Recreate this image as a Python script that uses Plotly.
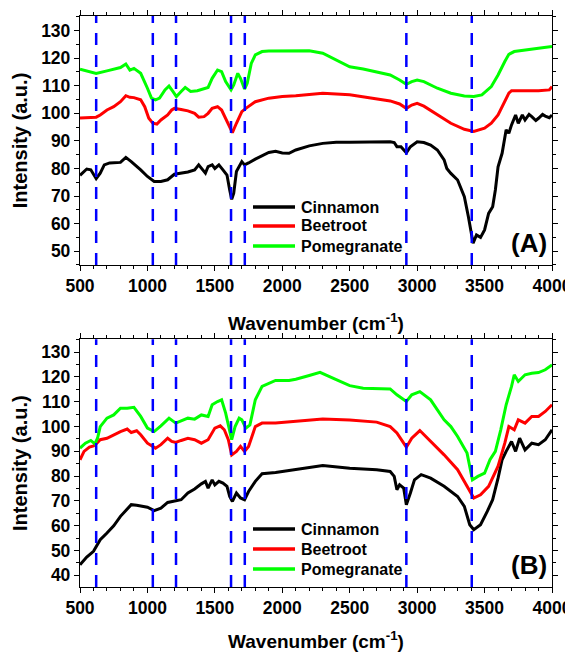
import plotly.graph_objects as go

# ---------------- data ----------------
# Panel A
A_cin_x = [500, 550, 580, 620, 650, 680, 720, 800, 840, 880, 950, 1000, 1050, 1100, 1150, 1200, 1300, 1350, 1380,
           1400, 1430, 1450, 1480, 1500, 1530, 1560, 1590, 1610, 1625, 1640, 1660, 1700, 1720, 1750, 1800, 1900,
           1950, 2000, 2050, 2100, 2200, 2300, 2400, 2500, 2600, 2700, 2800, 2830, 2850, 2880, 2920, 2950, 3000,
           3050, 3100, 3150, 3200, 3220, 3250, 3300, 3350, 3380, 3400, 3415, 3440, 3470, 3500, 3530, 3560, 3580,
           3600, 3630, 3660, 3680, 3700, 3730, 3750, 3780, 3800, 3830, 3850, 3880, 3900, 3930, 3950, 3980, 4000]
A_cin_y = [77.5, 79.8, 79.5, 76.3, 78.3, 81.3, 82.0, 82.2, 84.0, 82.5, 79.5, 77.1, 75.3, 75.3, 75.9, 77.9, 78.7, 79.5,
           81.3, 80.1, 78.3, 80.7, 81.3, 80.0, 81.3, 79.5, 77.6, 72.2, 68.8, 71.0, 78.9, 82.5, 81.3, 82.0, 83.4, 85.8,
           86.2, 85.6, 85.5, 86.7, 88.2, 89.1, 89.5, 89.5, 89.5, 89.7, 89.7, 89.4, 87.9, 87.9, 85.7, 87.9, 89.7,
           89.4, 88.5, 86.7, 83.1, 80.0, 78.2, 75.8, 69.8, 62.5, 56.5, 52.9, 55.9, 55.0, 57.7, 63.7, 66.1, 72.2,
           80.6, 85.5, 94.0, 92.8, 95.8, 99.4, 96.4, 99.4, 97.6, 99.6, 98.8, 97.4, 98.2, 99.6, 99.0, 98.4, 99.4]
A_bee_x = [500, 620, 650, 700, 750, 800, 840, 870, 900, 950, 980, 1010, 1040, 1070, 1100, 1150, 1180, 1200, 1250,
           1300, 1350, 1380, 1420, 1450, 1480, 1520, 1550, 1600, 1630, 1660, 1700, 1730, 1800, 1900, 2000, 2100,
           2300, 2500, 2700, 2800, 2870, 2920, 2960, 3000, 3050, 3150, 3250, 3350, 3420, 3500, 3550, 3600, 3650,
           3680, 3700, 3800, 3900, 3980, 4000]
A_bee_y = [98.3, 98.6, 99.4, 101.2, 102.4, 104.2, 106.4, 105.8, 105.7, 104.9, 102.4, 98.2, 96.4, 96.1, 97.6, 99.4,
           101.2, 101.8, 101.4, 100.9, 100.0, 98.6, 98.8, 100.0, 101.8, 102.4, 101.2, 96.4, 93.0, 96.4, 100.6, 101.8,
           104.2, 105.5, 106.1, 106.4, 107.3, 106.7, 105.2, 104.5, 103.4, 101.8, 103.0, 103.6, 102.6, 99.4, 96.4,
           94.2, 93.4, 94.6, 96.4, 99.4, 104.2, 107.3, 108.2, 108.2, 108.2, 108.5, 109.7]
A_pom_x = [500, 550, 620, 700, 770, 800, 840, 870, 900, 950, 1000, 1030, 1060, 1090, 1130, 1160, 1190, 1215, 1250,
           1280, 1320, 1370, 1450, 1480, 1520, 1550, 1580, 1620, 1640, 1670, 1690, 1720, 1740, 1770, 1800, 1850,
           1900, 2000, 2100, 2200, 2300, 2400, 2500, 2600, 2700, 2800, 2870, 2920, 2960, 3000, 3050, 3150, 3250,
           3350, 3420, 3480, 3550, 3600, 3650, 3680, 3720, 3800, 3900, 4000]
A_pom_y = [116.0, 115.3, 114.5, 115.4, 116.3, 116.6, 117.9, 115.7, 116.3, 114.5, 109.1, 105.5, 104.9, 105.5, 108.5,
           109.9, 107.9, 106.1, 107.9, 109.4, 107.9, 108.2, 109.4, 112.7, 115.7, 115.1, 111.5, 108.5, 110.3, 114.5,
           112.7, 108.8, 110.9, 118.1, 121.2, 122.4, 122.6, 122.7, 122.6, 122.7, 121.8, 119.4, 116.9, 116.1, 115.1,
           113.9, 112.1, 110.5, 111.5, 112.1, 111.5, 109.1, 107.3, 106.3, 106.1, 106.7, 109.7, 113.9, 118.8, 121.4,
           122.4, 123.0, 123.6, 124.2]

# Panel B
B_cin_x = [500, 550, 600, 620, 650, 700, 750, 800, 850, 880, 920, 1000, 1050, 1100, 1150, 1200, 1250, 1300, 1350,
           1400, 1430, 1450, 1480, 1500, 1530, 1560, 1590, 1610, 1630, 1660, 1690, 1720, 1750, 1800, 1850, 1950,
           2000, 2150, 2300, 2500, 2700, 2800, 2830, 2850, 2870, 2900, 2920, 2950, 2980, 3030, 3100, 3200, 3300,
           3350, 3390, 3420, 3470, 3520, 3560, 3600, 3630, 3660, 3700, 3730, 3760, 3800, 3850, 3900, 3950, 4000]
B_cin_y = [44.3, 47.4, 49.7, 51.4, 54.4, 57.1, 60.0, 63.8, 66.9, 68.5, 68.3, 67.5, 66.1, 67.1, 69.4, 69.8, 70.5,
           73.2, 74.8, 76.9, 77.9, 75.2, 78.5, 76.5, 77.9, 77.2, 75.9, 71.8, 69.8, 73.2, 71.2, 70.5, 73.8, 77.9,
           81.0, 81.5, 81.9, 83.2, 84.3, 83.2, 82.6, 81.9, 79.9, 74.5, 76.5, 75.2, 68.5, 73.2, 78.5, 80.6, 79.2,
           75.9, 71.8, 67.8, 60.4, 58.4, 60.4, 65.8, 70.5, 79.2, 86.6, 90.0, 94.0, 90.0, 95.3, 90.6, 93.3, 92.7,
           94.7, 98.7]
B_bee_x = [500, 530, 570, 600, 620, 650, 700, 750, 800, 850, 880, 920, 950, 1000, 1060, 1100, 1150, 1180, 1210,
           1250, 1300, 1350, 1400, 1450, 1500, 1540, 1570, 1600, 1625, 1660, 1690, 1720, 1750, 1800, 1850, 1950,
           2100, 2300, 2500, 2700, 2800, 2850, 2920, 2960, 3020, 3100, 3200, 3300, 3380, 3420, 3470, 3530, 3600,
           3650, 3680, 3720, 3750, 3800, 3850, 3900, 3950, 4000]
B_bee_y = [86.6, 90.0, 91.7, 92.2, 93.0, 94.7, 95.3, 96.7, 98.0, 99.0, 97.6, 98.3, 96.7, 93.3, 91.3, 92.7, 95.3,
           94.0, 93.6, 94.4, 95.3, 94.7, 93.3, 94.7, 99.4, 100.3, 98.7, 94.7, 88.6, 90.0, 92.0, 90.0, 92.0, 100.0,
           101.4, 101.4, 102.0, 103.1, 102.7, 101.8, 100.0, 97.4, 91.7, 95.3, 98.4, 94.0, 88.6, 82.6, 75.2, 71.2,
           72.5, 75.9, 84.0, 93.3, 100.0, 98.7, 102.7, 101.4, 104.1, 104.1, 106.1, 108.8]
B_pom_x = [500, 540, 580, 610, 630, 650, 700, 750, 800, 850, 900, 950, 1000, 1050, 1100, 1160, 1210, 1250, 1300,
           1350, 1400, 1450, 1480, 1520, 1550, 1580, 1610, 1625, 1650, 1680, 1700, 1730, 1760, 1800, 1850, 1950,
           2050, 2100, 2200, 2280, 2400, 2500, 2600, 2700, 2800, 2850, 2920, 2960, 3020, 3100, 3200, 3250, 3300,
           3370, 3410, 3450, 3500, 3540, 3580, 3620, 3660, 3700, 3720, 3750, 3800, 3850, 3900, 3950, 4000]
B_pom_y = [91.3, 93.3, 94.4, 93.0, 95.3, 100.0, 103.4, 104.7, 107.4, 107.4, 107.8, 104.1, 99.4, 98.0, 100.3, 103.4,
           101.4, 102.3, 103.4, 103.0, 104.7, 104.1, 108.8, 110.1, 110.8, 105.4, 98.7, 94.7, 100.0, 103.4, 102.7,
           99.4, 100.7, 110.8, 116.2, 118.6, 118.6, 119.1, 120.6, 121.9, 118.9, 116.5, 115.5, 115.5, 115.2, 112.8,
           110.1, 112.8, 114.1, 110.8, 102.7, 100.0, 96.0, 89.3, 78.5, 79.9, 81.2, 86.6, 90.0, 98.7, 108.8, 116.2,
           120.9, 118.2, 120.9, 121.5, 121.8, 122.9, 124.9]

SERIES_NAMES = ["Cinnamon", "Beetroot", "Pomegranate"]
VLINES = [620, 1040, 1212, 1620, 1722, 2920, 3405]
X_TICKS = [500, 1000, 1500, 2000, 2500, 3000, 3500, 4000]
A_Y_TICKS = [50, 60, 70, 80, 90, 100, 110, 120, 130]
B_Y_TICKS = [40, 50, 60, 70, 80, 90, 100, 110, 120, 130]

# ---------------- styling ----------------
COLORS = ["#000000", "#ff0000", "#00ff00"]
FONT = "Liberation Sans, Arial, sans-serif"
OFF = 8                      # page body margin offset
W, H = 565, 644
ML, MR, MT, MB = 72, 21, 8, 65

fig = go.Figure()

panelA = [(A_cin_x, A_cin_y), (A_bee_x, A_bee_y), (A_pom_x, A_pom_y)]
panelB = [(B_cin_x, B_cin_y), (B_bee_x, B_bee_y), (B_pom_x, B_pom_y)]

for (xs, ys), name, col in zip(panelA, SERIES_NAMES, COLORS):
    fig.add_trace(go.Scatter(x=xs, y=ys, mode="lines", name=name, line=dict(color=col, width=3),
                             xaxis="x", yaxis="y", showlegend=False))
for (xs, ys), name, col in zip(panelB, SERIES_NAMES, COLORS):
    fig.add_trace(go.Scatter(x=xs, y=ys, mode="lines", name=name, line=dict(color=col, width=3),
                             xaxis="x2", yaxis="y2", showlegend=False))

for xr, yr in [("x", "y domain"), ("x2", "y2 domain")]:
    for v in VLINES:
        fig.add_shape(type="line", xref=xr, yref=yr, x0=v, x1=v, y0=0, y1=1,
                      line=dict(color="#0000ff", width=2.5, dash="12px,10px"), layer="above")

# legend boxes (drawn in paper space, one per panel)
pw = W - ML - MR
ph = H - MT - MB
def px2paper_x(px):
    return (px - OFF - ML) / pw
def px2paper_y(py):
    return (H - MB - (py - OFF)) / ph

annotations = []
LEG_ROWS = {"A": [207, 226, 246], "B": [529, 549, 569]}
for panel, rows in LEG_ROWS.items():
    for name, col, py in zip(SERIES_NAMES, COLORS, rows):
        yy = px2paper_y(py)
        fig.add_shape(type="line", xref="paper", yref="paper", x0=px2paper_x(253), x1=px2paper_x(295),
                      y0=yy, y1=yy, line=dict(color=col, width=3.5))
        annotations.append(dict(text=name, xref="paper", yref="paper", x=px2paper_x(299), y=yy,
                                xanchor="left", yanchor="middle", showarrow=False,
                                font=dict(family=FONT, size=16, color="black", weight="bold")))

axis_common = dict(showline=True, linecolor="black", linewidth=1.3, mirror="ticks", ticks="outside",
                   ticklen=5, tickwidth=1.2, tickcolor="black", showgrid=False, zeroline=False,
                   automargin=False,
                   tickfont=dict(family=FONT, size=17.5, color="black", weight="bold"))
xminor = dict(dtick=100, ticks="outside", ticklen=3, tickwidth=1, tickcolor="black")
yminor = dict(dtick=5, ticks="outside", ticklen=3, tickwidth=1, tickcolor="black")
xtitle = dict(text="Wavenumber (cm<sup>-1</sup>)", font=dict(family=FONT, size=19, color="black", weight="bold"),
              standoff=21)
ytitle = dict(text="Intensity (a.u.)", font=dict(family=FONT, size=20, color="black", weight="bold"), standoff=8)

annotations += [
    dict(text="(A)", xref="x domain", yref="y domain", x=0.993, y=0.02, xanchor="right", yanchor="bottom",
         showarrow=False, font=dict(family=FONT, size=26, color="black", weight="bold")),
    dict(text="(B)", xref="x2 domain", yref="y2 domain", x=0.993, y=0.02, xanchor="right", yanchor="bottom",
         showarrow=False, font=dict(family=FONT, size=26, color="black", weight="bold")),
]

fig.update_layout(
    width=W, height=H,
    margin=dict(l=ML, r=MR, t=MT, b=MB, autoexpand=False),
    paper_bgcolor="white", plot_bgcolor="white",
    xaxis=dict(domain=[0, 1], range=[500, 4000], tickvals=X_TICKS, anchor="y", minor=xminor,
               title=xtitle, **axis_common),
    yaxis=dict(domain=[0.564, 1], range=[45, 135.3], tickvals=A_Y_TICKS, anchor="x", minor=yminor,
               title=ytitle, **axis_common),
    xaxis2=dict(domain=[0, 1], range=[500, 4000], tickvals=X_TICKS, anchor="y2", minor=xminor,
                title=xtitle, **axis_common),
    yaxis2=dict(domain=[0, 0.4338], range=[35.3, 135.2], tickvals=B_Y_TICKS, anchor="x2", minor=yminor,
                title=ytitle, **axis_common),
    annotations=annotations,
    showlegend=False,
)

fig.write_html("out.html")
